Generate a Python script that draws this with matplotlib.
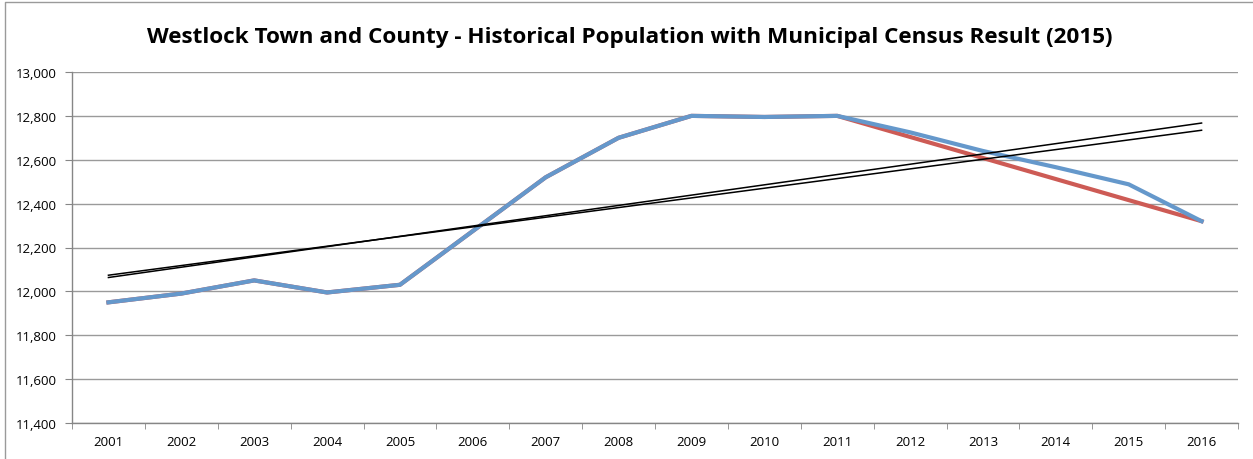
import numpy as np
import matplotlib
matplotlib.use("Agg")
import matplotlib.pyplot as plt
from matplotlib.ticker import FuncFormatter, FixedLocator
from matplotlib.lines import Line2D

years = ["2001", "2002", "2003", "2004", "2005", "2006", "2007", "2008",
         "2009", "2010", "2011", "2012", "2013", "2014", "2015", "2016"]
historical = [11950, 11990, 12050, 11995, 12030, 12275, 12520, 12700,
              12800, 12795, 12800, 12725, 12640, 12566, 12488, 12320]
with_census = [11950, 11990, 12050, 11995, 12030, 12275, 12520, 12700,
               12800, 12795, 12800, 12704, 12608, 12512, 12416, 12320]
title = "Westlock Town and County - Historical Population with Municipal Census Result (2015)"

plt.rcParams['font.family'] = ['Open Sans', 'DejaVu Sans']

fig = plt.figure(figsize=(12.53, 4.60), dpi=100)
ax = fig.add_axes([72/1253, 1 - 424/460, (1238-72)/1253, (424-73)/460])

x = np.arange(len(years))
ax.plot(x, with_census, color="#CD5B55", lw=3.0, solid_joinstyle="round", zorder=3)
ax.plot(x, historical, color="#6598CB", lw=3.0, solid_joinstyle="round", zorder=4)

for series in (historical, with_census):
    m, b = np.polyfit(x, series, 1)
    ax.plot(x, m * x + b, color="black", lw=1.1, zorder=5)

ax.set_xlim(-0.5, len(years) - 0.5)
ax.set_ylim(11400, 13000)
ax.set_yticks(np.arange(11400, 13001, 200))
ax.yaxis.set_major_formatter(FuncFormatter(lambda v, p: f"{int(v):,}"))
ax.set_xticks(x)
ax.set_xticklabels(years)
ax.xaxis.set_minor_locator(FixedLocator(np.arange(-0.5, len(years), 1)))
ax.tick_params(axis="x", which="major", length=0, pad=9, labelsize=9.5)
ax.tick_params(axis="x", which="minor", length=4, color="#868686", direction="out")
ax.tick_params(axis="y", length=5, color="#868686", direction="out", labelsize=9.5, pad=6)
ax.grid(axis="y", color="#9a9a9a", lw=1.0, zorder=0)
for s in ("top", "right"):
    ax.spines[s].set_visible(False)
for s in ("left", "bottom"):
    ax.spines[s].set_color("#868686")
    ax.spines[s].set_linewidth(1.0)

fig.text(630/1253, 1 - 38/460, title, ha="center", va="center",
         fontsize=16.2, fontweight="bold")

# outer chart-area border (left and top edges visible in the reference)
fig.lines.append(Line2D([5/1253, 5/1253, 1.0], [0.0, 1 - 3/460, 1 - 3/460],
                        transform=fig.transFigure, color="#9a9a9a", lw=1.0))

fig.savefig("out.png", dpi=100)
